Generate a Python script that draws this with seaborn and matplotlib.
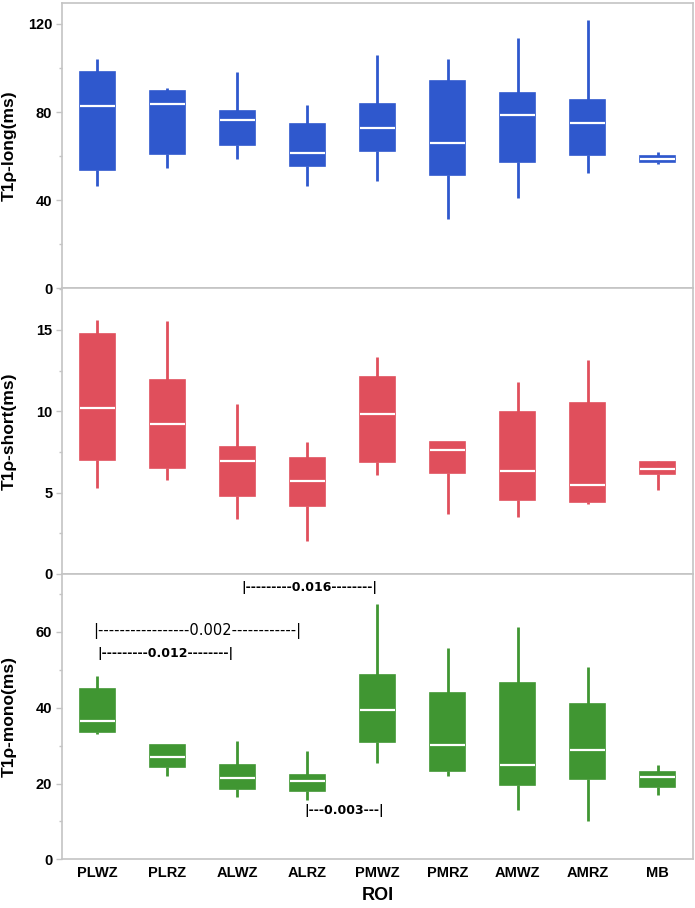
import pandas as pd
import matplotlib
matplotlib.use("Agg")
import matplotlib.pyplot as plt
from matplotlib.ticker import MultipleLocator
import seaborn as sns

# ROI categories
rois = ["PLWZ", "PLRZ", "ALWZ", "ALRZ", "PMWZ", "PMRZ", "AMWZ", "AMRZ", "MB"]

# five-number summaries: min, q1, median, q3, max
long_min = [46.3, 54.7, 58.5, 46.6, 48.9, 31.6, 41.0, 52.2, 56.5]
long_q1 = [53.9, 61.2, 65.3, 55.7, 62.2, 51.6, 57.5, 60.7, 57.5]
long_med = [82.9, 83.6, 76.5, 61.6, 72.7, 65.9, 78.9, 75.0, 58.6]
long_q3 = [98.3, 89.7, 80.7, 74.4, 83.6, 94.2, 88.6, 85.4, 60.0]
long_max = [104.2, 90.9, 98.3, 83.0, 106.0, 104.2, 113.6, 122.0, 62.1]

short_min = [5.26, 5.75, 3.38, 2.00, 6.07, 3.71, 3.47, 4.28, 5.14]
short_q1 = [7.03, 6.50, 4.79, 4.18, 6.85, 6.22, 4.55, 4.40, 6.16]
short_med = [10.20, 9.19, 6.93, 5.71, 9.83, 7.60, 6.34, 5.48, 6.44]
short_q3 = [14.72, 11.90, 7.81, 7.12, 12.13, 8.10, 9.93, 10.52, 6.87]
short_max = [15.58, 15.54, 10.44, 8.12, 13.33, 8.13, 11.82, 13.13, 6.97]

mono_min = [33.0, 22.1, 16.5, 15.7, 25.4, 22.0, 13.1, 10.2, 16.9]
mono_q1 = [33.7, 24.3, 18.6, 18.0, 31.0, 23.3, 19.6, 21.3, 19.2]
mono_med = [36.5, 26.9, 21.4, 20.6, 39.4, 30.1, 25.0, 28.9, 21.8]
mono_q3 = [44.9, 30.2, 24.9, 22.3, 48.7, 44.0, 46.4, 41.1, 23.1]
mono_max = [48.4, 30.2, 31.1, 28.6, 67.4, 55.8, 61.3, 50.8, 24.9]

# p-value brackets in the bottom panel
pval_labels = ["|---------0.016--------|", "|-----------------0.002------------|",
               "|---------0.012--------|", "|---0.003---|"]


def to_long(mins, q1s, meds, q3s, maxs):
    rows = []
    for roi, a, b, c, d, e in zip(rois, mins, q1s, meds, q3s, maxs):
        for v in (a, b, c, d, e):
            rows.append({"ROI": roi, "value": v})
    return pd.DataFrame(rows)


panels = [
    (to_long(long_min, long_q1, long_med, long_q3, long_max), "#2f58cd", "T1ρ-long(ms)", 129.5, 40, 20),
    (to_long(short_min, short_q1, short_med, short_q3, short_max), "#e04f5c", "T1ρ-short(ms)", 17.55, 5, 2.5),
    (to_long(mono_min, mono_q1, mono_med, mono_q3, mono_max), "#409632", "T1ρ-mono(ms)", 75.3, 20, 10),
]

sns.set_style("white")
plt.rcParams["font.family"] = ["Liberation Sans", "DejaVu Sans"]
plt.rcParams["text.color"] = "black"
plt.rcParams["axes.labelcolor"] = "black"
plt.rcParams["xtick.labelcolor"] = "black"
plt.rcParams["ytick.labelcolor"] = "black"

fig, axes = plt.subplots(3, 1, figsize=(6.95, 9.08), dpi=100, sharex=True)
fig.subplots_adjust(left=0.0892, right=0.997, top=0.9967, bottom=0.0536, hspace=0)

frame = "#c4c4c4"
for ax, (df, color, label, ymax, major, minor) in zip(axes, panels):
    sns.boxplot(data=df, x="ROI", y="value", order=rois, ax=ax, color=color,
                saturation=1, width=0.5, whis=(0, 100), showcaps=False,
                linecolor=color, linewidth=1.2, fliersize=0,
                medianprops=dict(color="white", linewidth=1.6),
                whiskerprops=dict(color=color, linewidth=2))
    ax.set_xlim(-0.5, 8.5)
    ax.set_ylim(0, ymax)
    ax.yaxis.set_major_locator(MultipleLocator(major))
    ax.yaxis.set_minor_locator(MultipleLocator(minor))
    ax.tick_params(axis="y", which="major", left=True, length=4, width=1, color=frame,
                   labelsize=10.5, pad=3, labelcolor="black")
    ax.tick_params(axis="y", which="minor", left=True, length=2.5, width=1, color=frame)
    ax.tick_params(axis="x", bottom=False, length=0)
    for lab in ax.get_yticklabels():
        lab.set_fontweight("bold")
    for s in ax.spines.values():
        s.set_color(frame)
        s.set_linewidth(1.2)
    ax.set_ylabel(label, fontsize=12.5, fontweight="bold", color="black")
    ax.yaxis.set_label_coords(-0.072, 0.5)
    ax.set_xlabel("")

ax3 = axes[2]
ax3.tick_params(axis="x", labelsize=10.5, pad=5, labelcolor="black")
for lab in ax3.get_xticklabels():
    lab.set_fontweight("bold")
ax3.set_xlabel("ROI", fontsize=13, fontweight="bold", labelpad=5, color="black")

ann_font = ["DejaVu Sans"]
ax3.text(3.03, 71.6, pval_labels[0], ha="center", va="center", fontsize=9,
         fontweight="bold", family=ann_font, color="black")
ax3.text(1.43, 60.3, pval_labels[1], ha="center", va="center", fontsize=10.5,
         family=ann_font, color="black")
ax3.text(0.97, 54.2, pval_labels[2], ha="center", va="center", fontsize=9,
         fontweight="bold", family=ann_font, color="black")
ax3.text(3.53, 13.0, pval_labels[3], ha="center", va="center", fontsize=9,
         fontweight="bold", family=ann_font, color="black")

fig.savefig("out.png", dpi=100)
plt.close(fig)
